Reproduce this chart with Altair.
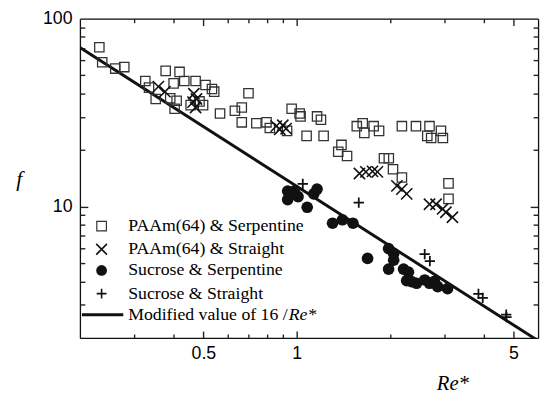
import altair as alt
import pandas as pd

# ---- data ----
paam_serp_re = [0.231, 0.236, 0.260, 0.278, 0.325, 0.334, 0.351, 0.378, 0.419, 0.434,
                0.472, 0.508, 0.533, 0.542, 0.410, 0.404, 0.455, 0.499, 0.566, 0.632,
                0.665, 0.699, 0.665, 0.741, 0.799, 0.819, 0.963, 1.022, 1.029, 1.163,
                1.197, 0.931, 1.076, 1.221, 1.394, 1.361, 1.453, 1.562, 1.632, 1.652,
                1.770, 1.843, 1.911, 1.981, 2.044, 2.183, 2.183, 2.424, 2.680, 2.918,
                2.960, 2.713, 2.636, 3.086, 3.086, 0.401, 0.391, 0.486]
paam_serp_f = [70.5, 58.7, 54.3, 55.3, 46.6, 43.0, 37.4, 52.8, 52.1, 46.6,
               46.6, 44.4, 42.3, 40.9, 36.6, 33.2, 34.7, 34.7, 31.3, 32.4,
               33.7, 40.1, 28.1, 27.8, 28.1, 26.2, 33.2, 31.3, 30.2, 30.2,
               29.0, 25.3, 23.8, 23.8, 21.3, 19.6, 18.6, 26.8, 27.8, 24.7,
               26.8, 25.3, 18.1, 18.1, 15.8, 14.3, 26.8, 26.8, 26.8, 25.3,
               23.2, 23.2, 23.8, 13.3, 11.0, 45.3, 37.7, 36.3]

paam_str_re = [0.358, 0.376, 0.466, 0.475, 0.463, 0.472, 0.859, 0.902, 0.924, 0.882,
               1.593, 1.671, 1.755, 1.820, 2.104, 2.183, 2.262, 2.680, 2.814, 2.954,
               3.026, 3.177]
paam_str_f = [43.5, 40.9, 39.9, 37.4, 36.0, 33.7, 26.8, 27.1, 26.0, 25.8,
              15.0, 15.3, 15.4, 15.3, 12.9, 12.4, 11.7, 10.3, 10.3, 9.72,
              9.33, 8.78]

suc_serp_re = [0.935, 0.935, 0.982, 1.010, 1.081, 1.135, 1.163, 1.305, 1.404, 1.518,
               1.692, 1.978, 2.054, 2.054, 1.978, 2.210, 2.292, 2.262, 2.346, 2.434,
               2.586, 2.680, 2.848, 3.064, 2.780]
suc_serp_f = [12.1, 10.9, 12.1, 11.3, 9.92, 11.7, 12.4, 8.16, 8.51, 8.16,
              5.30, 5.98, 5.63, 5.19, 4.65, 4.65, 4.48, 4.04, 3.99, 3.91,
              4.07, 3.91, 3.75, 3.66, 4.00]

suc_str_re = [1.046, 1.585, 2.586, 2.687, 3.854, 3.978, 4.736, 4.745]
suc_str_f = [13.2, 10.5, 5.59, 5.13, 3.43, 3.27, 2.66, 2.58]

line_re = [0.2, 5.9]
line_f = [70.2, 1.97]

x_labels = [0.5, 1, 5]
x_minor = [0.3, 0.4, 0.6, 0.7, 0.8, 0.9, 2, 3, 4]
y_labels = [10, 100]
y_major = [10]
y_minor = [3, 4, 5, 6, 7, 8, 9, 20, 30, 40, 50, 60, 70, 80, 90]

legend_labels = ["PAAm(64) & Serpentine", "PAAm(64) & Straight",
                 "Sucrose & Serpentine", "Sucrose & Straight",
                 "Modified value of 16 /"]
legend_italic = "Re*"

# ---- layout ----
W, H = 465, 324
INK = "#111111"
TICK = "#222222"

xscale = alt.Scale(type="log", domain=[0.2, 6], nice=False)
yscale = alt.Scale(type="log", domain=[2, 100], nice=False)

xaxis = alt.Axis(orient="bottom", values=x_labels, format="~g", ticks=False,
                 domain=False, grid=False,
                 labelFont="Liberation Sans", labelFontSize=18, labelColor="black",
                 labelPadding=7, labelFlush=False,
                 title="Re*", titleFont="Liberation Serif", titleFontStyle="italic",
                 titleFontWeight="normal", titleFontSize=21, titleColor="black",
                 titleX=378, titleY=52, titleAlign="center", titleBaseline="alphabetic")
yaxis = alt.Axis(orient="left", values=y_labels, format="~g", ticks=False,
                 domain=False, grid=False,
                 labelFont="Liberation Sans", labelFontSize=18, labelColor="black",
                 labelPadding=8, labelFlush=False,
                 title="f", titleFont="Liberation Serif", titleFontStyle="italic",
                 titleFontWeight="normal", titleFontSize=22, titleColor="black",
                 titleAngle=0, titleX=-62, titleY=162, titleAlign="center",
                 titleBaseline="middle")


def df(re, f):
    return pd.DataFrame({"Re": re, "f": f})


def XN():
    return alt.X("Re:Q", scale=xscale, axis=None)


def YN():
    return alt.Y("f:Q", scale=yscale, axis=None)


line = alt.Chart(df(line_re, line_f)).mark_line(
    color=INK, strokeWidth=3, clip=True).encode(
    x=alt.X("Re:Q", scale=xscale, axis=xaxis),
    y=alt.Y("f:Q", scale=yscale, axis=yaxis))

squares = alt.Chart(df(paam_serp_re, paam_serp_f)).mark_point(
    shape="square", filled=False, stroke="#333333", strokeWidth=1.3, size=90,
    opacity=1).encode(x=XN(), y=YN())

XPATH = "M-1,-1L1,1M1,-1L-1,1"
PPATH = "M-1,0L1,0M0,-1L0,1"

crosses = alt.Chart(df(paam_str_re, paam_str_f)).mark_point(
    shape=XPATH, filled=False, stroke=INK, strokeWidth=1.6, size=130,
    opacity=1).encode(x=XN(), y=YN())

circles = alt.Chart(df(suc_serp_re, suc_serp_f)).mark_point(
    shape="circle", filled=True, fill=INK, size=140, opacity=1).encode(x=XN(), y=YN())

pluses = alt.Chart(df(suc_str_re, suc_str_f)).mark_point(
    shape=PPATH, filled=False, stroke=INK, strokeWidth=1.8, size=110,
    opacity=1).encode(x=XN(), y=YN())


# inward ticks (and frame lines): tick-only axes pulled onto the opposite edge
def tick_layer(xvals, xlen, xorient, yvals, ylen, yorient, frame):
    common = dict(tickColor=TICK, tickWidth=1.4, labels=False, grid=False, title="",
                  domain=frame, domainColor=INK, domainWidth=1.3)
    xa = alt.Axis(orient=xorient, offset=-H, values=xvals, tickSize=xlen, **common)
    ya = alt.Axis(orient=yorient, offset=-W, values=yvals, tickSize=ylen, **common)
    return alt.Chart(df(line_re, line_f)).mark_point(opacity=0).encode(
        x=alt.X("Re:Q", scale=xscale, axis=xa),
        y=alt.Y("f:Q", scale=yscale, axis=ya))


ticks = [
    tick_layer(x_labels, 7, "top", y_major, 8, "right", True),     # bottom & left edges
    tick_layer(x_labels, 7, "bottom", y_major, 8, "left", True),   # top & right edges
    tick_layer(x_minor, 4, "top", y_minor, 5, "right", False),
    tick_layer(x_minor, 4, "bottom", y_minor, 5, "left", False),
]

# legend
one = pd.DataFrame({"k": [0]})
rows_y = [210.5, 234, 255.5, 279, 300.5]
sym_x, txt_x = 22, 49

leg = [
    alt.Chart(one).mark_point(shape="square", filled=False, stroke="#333333",
                              strokeWidth=1.2, size=95, opacity=1).encode(
        x=alt.value(sym_x), y=alt.value(rows_y[0])),
    alt.Chart(one).mark_point(shape=XPATH, filled=False, stroke=INK,
                              strokeWidth=1.6, size=120, opacity=1).encode(
        x=alt.value(sym_x), y=alt.value(rows_y[1])),
    alt.Chart(one).mark_point(shape="circle", filled=True, fill=INK,
                              size=120, opacity=1).encode(
        x=alt.value(sym_x), y=alt.value(rows_y[2])),
    alt.Chart(one).mark_point(shape=PPATH, filled=False, stroke=INK,
                              strokeWidth=1.6, size=100, opacity=1).encode(
        x=alt.value(sym_x), y=alt.value(rows_y[3])),
    alt.Chart(one).mark_rule(color=INK, strokeWidth=3).encode(
        x=alt.value(2), x2=alt.value(44), y=alt.value(rows_y[4])),
]
for lab, yy in zip(legend_labels, rows_y):
    leg.append(alt.Chart(one).mark_text(
        align="left", baseline="middle", font="Liberation Serif", fontSize=18,
        color="black").encode(x=alt.value(txt_x), y=alt.value(yy), text=alt.value(lab)))
leg.append(alt.Chart(one).mark_text(
    align="left", baseline="middle", font="Liberation Serif", fontSize=18,
    fontStyle="italic", color="black").encode(
    x=alt.value(212), y=alt.value(rows_y[4]), text=alt.value(legend_italic)))

chart = alt.layer(line, *ticks, squares, crosses, circles, pluses, *leg).resolve_axis(
    x="independent", y="independent"
).properties(
    width=W, height=H,
    autosize=alt.AutoSizeParams(type="none"),
    padding={"left": 73, "top": 8, "right": 5, "bottom": 55},
).configure_view(stroke=INK, strokeWidth=1.3).configure(background="white")

chart.save("out.html", embed_options={"renderer": "svg", "actions": False})
